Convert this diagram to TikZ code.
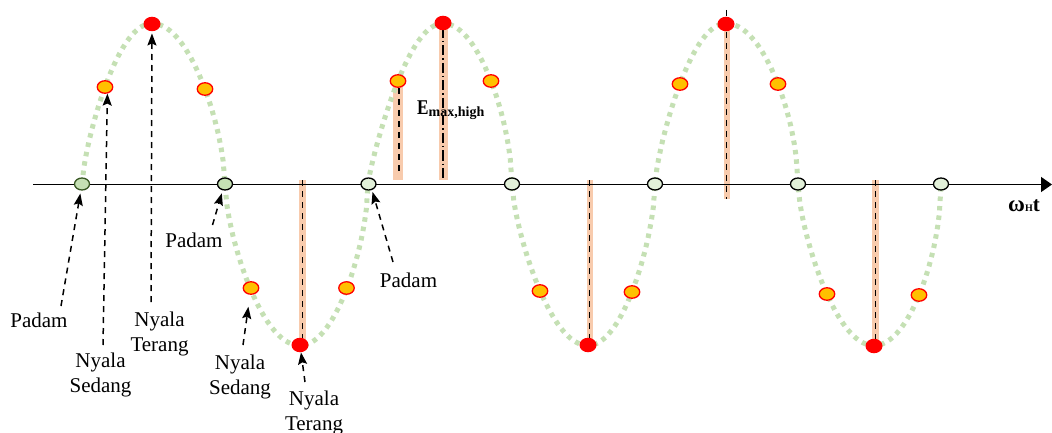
\documentclass[tikz,border=0pt]{standalone}
\usepackage{fontspec}
\setmainfont{Liberation Serif}
\usepackage{graphicx}
\usetikzlibrary{shapes.geometric,arrows.meta}
\definecolor{wavegreen}{HTML}{C5E0B4}
\definecolor{peach}{HTML}{F8CBAD}
\definecolor{dotorange}{HTML}{FFC000}
\definecolor{zerofill}{HTML}{E2F0D9}
\definecolor{zerofillA}{HTML}{C5E0B4}
\definecolor{darkgreen}{HTML}{385723}
\begin{document}
\begin{tikzpicture}[x=1pt,y=-1pt,
  wave/.style={draw=wavegreen, line width=5pt, dash pattern=on 4.5pt off 5pt},
  peakdot/.style={ellipse, fill=red, inner sep=0pt, minimum width=17pt, minimum height=14.5pt},
  middot/.style={ellipse, fill=dotorange, draw=red, line width=1.3pt, inner sep=0pt, minimum width=15.5pt, minimum height=12.5pt},
  zerodot/.style={ellipse, fill=zerofill, draw=black, line width=1.3pt, inner sep=0pt, minimum width=15pt, minimum height=12pt},
  lbl/.style={font=\fontsize{21}{24.5}\selectfont, align=center, inner sep=0pt},
  pointer/.style={draw=black, line width=1.5pt, dash pattern=on 6pt off 5pt, -{Stealth[length=12pt,width=9pt,inset=2pt]}},
  guide/.style={draw=black, line width=1.5pt, dash pattern=on 6pt off 5pt},
  bar/.style={fill=peach}
]
\useasboundingbox (0,0) rectangle (1052,433);

% peach bars with guide lines
\fill[bar] (298.5,180) rectangle (305.5,345);
\draw[guide] (302.3,180) -- (302.3,340);
\fill[bar] (393,87) rectangle (403,180);
\draw[guide] (399,88) -- (399,175);
\fill[bar] (438.5,24) rectangle (447.5,180);
\draw[line width=1.5pt, dash pattern=on 10pt off 3pt on 1.5pt off 3pt] (442.8,28) -- (442.8,180);
\fill[bar] (586.5,180) rectangle (592.5,345);
\draw[guide] (589.5,180) -- (589.5,340);
\fill[bar] (723.5,24) rectangle (729.5,199);
\draw[guide] (726.5,10) -- (726.5,199);
\fill[bar] (872.2,180) rectangle (879.2,345);
\draw[guide] (875.7,180) -- (875.7,340);

% wave
\draw[wave] (82,184.5)
  \foreach \z/\e/\w/\s/\p/\q in {82/152/225/1/0.71/0.60, 225/300/368/-1/0.64/0.58, 368/443/512/1/0.83/0.57, 512/588/655/-1/0.69/0.61, 655/726/798/1/0.73/0.55, 798/874/941/-1/0.67/0.53}
  { -- plot[domain=0:90,samples=40] ({\z+(\e-\z)*\x/90},{184.5-(\s)*161*pow(sin(\x)+0.0001,\p)})
    -- plot[domain=90:180,samples=40] ({\e+(\w-\e)*(\x-90)/90},{184.5-(\s)*161*pow(sin(\x)+0.0001,\q)}) };

% axis
\coordinate (ax0) at (33,184.5);
\coordinate (ax1) at (1052,184.5);
\draw[line width=1.5pt, -{Triangle[length=11pt,width=15pt]}] (ax0) -- (ax1);

% zero crossings
\node[zerodot, fill=zerofillA, draw=darkgreen] (c1) at (82,184) {};
\node[zerodot, fill=zerofillA] (c2) at (225,184) {};
\node[zerodot] (c3) at (368.5,184) {};
\node[zerodot] (c4) at (512,184) {};
\node[zerodot] (c5) at (655,184) {};
\node[zerodot] (c6) at (798,184) {};
\node[zerodot] (c7) at (941,184) {};

% extremes
\node[peakdot] (r1) at (152,24) {};
\node[peakdot] (r2) at (300,345) {};
\node[peakdot] (r3) at (443,23) {};
\node[peakdot] (r4) at (588,345) {};
\node[peakdot] (r5) at (726,24) {};
\node[peakdot] (r6) at (874,346) {};

% medium points
\node[middot] (o1) at (105,87) {};
\node[middot] (o2) at (205,89) {};
\node[middot] (o3) at (251,288) {};
\node[middot] (o4) at (346.5,288) {};
\node[middot] (o5) at (398,81) {};
\node[middot] (o6) at (491,81) {};
\node[middot] (o7) at (540,291) {};
\node[middot] (o8) at (632,292) {};
\node[middot] (o9) at (680,84) {};
\node[middot] (o10) at (778,84) {};
\node[middot] (o11) at (827,294) {};
\node[middot] (o12) at (919,295) {};

% labels (base = baseline of the last line)
\node[lbl, anchor=base] (p1) at (39,327) {Padam};
\node[lbl, anchor=base] (s1) at (100.5,392) {Nyala\\Sedang};
\node[lbl, anchor=base] (t1) at (159.5,351) {Nyala\\Terang};
\node[lbl, anchor=base] (p2) at (194,247.5) {Padam};
\node[lbl, anchor=base] (s2) at (240,394) {Nyala\\Sedang};
\node[lbl, anchor=base] (t2) at (314,430) {Nyala\\Terang};
\node[lbl, anchor=base] (p3) at (408.5,287) {Padam};

\node[anchor=base west, inner sep=0pt, font=\bfseries] (emax) at (417,114.3)
  {\fontsize{21}{25}\selectfont\scalebox{0.82}[1]{E}\raisebox{-2.5pt}{\fontsize{14}{16}\selectfont max,high}};
\node[anchor=base west, inner sep=0pt, font=\bfseries] (wt) at (1008,211)
  {\fontsize{23}{26}\selectfont ω\raisebox{-1pt}{\fontsize{10}{12}\selectfont H}\fontsize{21}{25}\selectfont t};

% pointers
\coordinate (a1) at (61,306);
\coordinate (a2) at (103,345);
\coordinate (a3) at (151,302);
\coordinate (a4) at (212.5,225);
\coordinate (a5) at (243,345);
\coordinate (a6) at (305,382);
\coordinate (a7) at (393,262);
\draw[pointer, shorten >=3pt] (a1) -- (c1.260);
\draw[pointer] (a2) -- (o1.290);
\draw[pointer, shorten >=2pt] (a3) -- (r1);
\draw[pointer, shorten >=3pt] (a4) -- (c2.250);
\draw[pointer, shorten >=12pt] (a5) -- (o3);
\draw[pointer] (a6) -- (r2);
\draw[pointer, shorten >=2pt] (a7) -- (c3.300);
\end{tikzpicture}
\end{document}
